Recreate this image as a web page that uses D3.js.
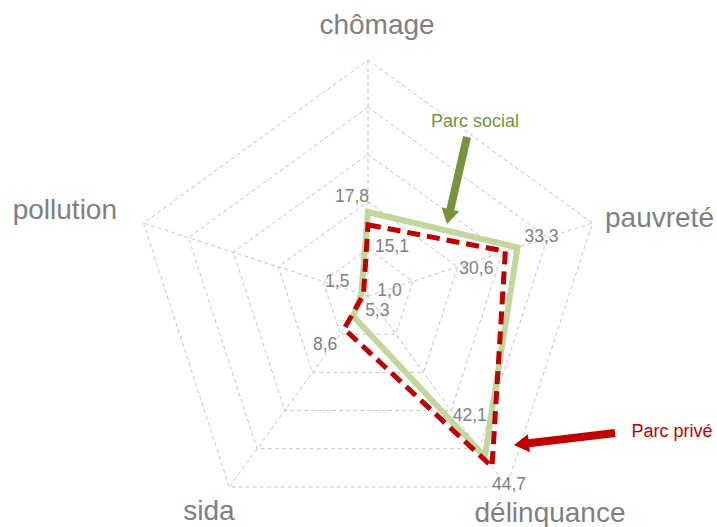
<!DOCTYPE html>
<html>
<head>
<meta charset="utf-8">
<script src="https://cdn.jsdelivr.net/npm/d3@7"></script>
<style>
  body { margin: 0; background: #fff; }
  text { font-family: "Liberation Sans", Arial, sans-serif; }
  .grid { fill: none; stroke: #c8c8c8; stroke-width: 1; stroke-dasharray: 4,3; }
  .axis-label { font-size: 28px; fill: #7f7f7f; }
  .val { font-size: 17.5px; fill: #7f7f7f; }
</style>
</head>
<body>
<div id="chart"></div>
<script>
  var axes = ['chômage', 'pauvreté', 'délinquance', 'sida', 'pollution'];
  var parcSocial = [17.8, 33.3, 42.1, 5.3, 1.5];
  var parcPrive = [15.1, 30.6, 44.7, 8.6, 1.0];
  var rings = [10, 20, 30, 40, 50];

  var width = 717, height = 527;
  var cx = 368, cy = 296, radius = 236;

  var svg = d3.select('#chart').append('svg')
    .attr('width', width).attr('height', height);
  var g = svg.append('g').attr('transform', 'translate(' + cx + ',' + cy + ')');

  var r = d3.scaleLinear().domain([0, 50]).range([0, radius]);
  var angle = d3.scalePoint().domain(axes).range([0, 2 * Math.PI * 4 / 5]);

  function pt(a, v) {
    var t = angle(a);
    return [r(v) * Math.sin(t), -r(v) * Math.cos(t)];
  }

  // grid rings
  g.selectAll('.ring').data(rings).enter().append('polygon')
    .attr('class', 'grid')
    .attr('points', function(v) {
      return axes.map(function(a) { return pt(a, v).join(','); }).join(' ');
    });

  // spokes
  g.selectAll('.spoke').data(axes).enter().append('line')
    .attr('class', 'grid')
    .attr('x1', 0).attr('y1', 0)
    .attr('x2', function(a) { return pt(a, 50)[0]; })
    .attr('y2', function(a) { return pt(a, 50)[1]; });

  // axis labels
  var labelPos = {
    'chômage': [9, -269, 'middle'],
    'pauvreté': [237, -76, 'start'],
    'délinquance': [182, 219, 'middle'],
    'sida': [-159, 217, 'middle'],
    'pollution': [-251, -84, 'end']
  };
  g.selectAll('.axis-label').data(axes).enter().append('text')
    .attr('class', 'axis-label')
    .attr('x', function(a) { return labelPos[a][0]; })
    .attr('y', function(a) { return labelPos[a][1]; })
    .attr('text-anchor', function(a) { return labelPos[a][2]; })
    .attr('dominant-baseline', 'middle')
    .text(function(a) { return a; });

  var line = d3.lineRadial()
    .angle(function(d, i) { return angle(axes[i]); })
    .radius(function(d) { return r(d); })
    .curve(d3.curveLinearClosed);

  g.append('path').datum(parcSocial)
    .attr('d', line)
    .attr('fill', 'none')
    .attr('stroke', '#c3d69b')
    .attr('stroke-width', 6)
    .attr('stroke-linejoin', 'miter');

  g.append('path').datum(parcPrive)
    .attr('d', line)
    .attr('fill', 'none')
    .attr('stroke', '#c00000')
    .attr('stroke-width', 5)
    .attr('stroke-dasharray', '13,7');

  // value labels (offsets from point)
  var offSocial = [[-16, -15], [24, -10], [-15, -40], [24, -5], [-24, -11]];
  var offPrive = [[24, 23], [-29, 18], [17, 19], [-19, 17], [26, -3]];

  function fmt(v) { return d3.format('.1f')(v).replace('.', ','); }

  function valueLabels(data, offs) {
    g.selectAll(null).data(data).enter().append('text')
      .attr('class', 'val')
      .attr('text-anchor', 'middle')
      .attr('dominant-baseline', 'middle')
      .attr('x', function(d, i) { return pt(axes[i], d)[0] + offs[i][0]; })
      .attr('y', function(d, i) { return pt(axes[i], d)[1] + offs[i][1]; })
      .text(fmt);
  }
  valueLabels(parcSocial, offSocial);
  valueLabels(parcPrive, offPrive);

  // annotations with arrows
  function arrow(x1, y1, x2, y2, color) {
    var dx = x2 - x1, dy = y2 - y1, len = Math.sqrt(dx * dx + dy * dy);
    var ux = dx / len, uy = dy / len, nx = -uy, ny = ux;
    var head = 15, hw = 9, sw = 4;
    var bx = x2 - ux * head, by = y2 - uy * head;
    var p = [
      [x1 + nx * sw, y1 + ny * sw], [bx + nx * sw, by + ny * sw],
      [bx + nx * hw, by + ny * hw], [x2, y2],
      [bx - nx * hw, by - ny * hw], [bx - nx * sw, by - ny * sw],
      [x1 - nx * sw, y1 - ny * sw]
    ];
    svg.append('polygon').attr('points', p.map(function(q) { return q.join(','); }).join(' '))
      .attr('fill', color);
  }

  svg.append('text').attr('x', 475).attr('y', 122)
    .attr('text-anchor', 'middle').attr('dominant-baseline', 'middle')
    .style('font-size', '18px').style('fill', '#77933c').text('Parc social');
  arrow(467, 137, 447, 224, '#77933c');

  svg.append('text').attr('x', 672).attr('y', 432)
    .attr('text-anchor', 'middle').attr('dominant-baseline', 'middle')
    .style('font-size', '18px').style('fill', '#c00000').text('Parc privé');
  arrow(615, 433, 514, 445, '#c00000');
</script>
</body>
</html>
